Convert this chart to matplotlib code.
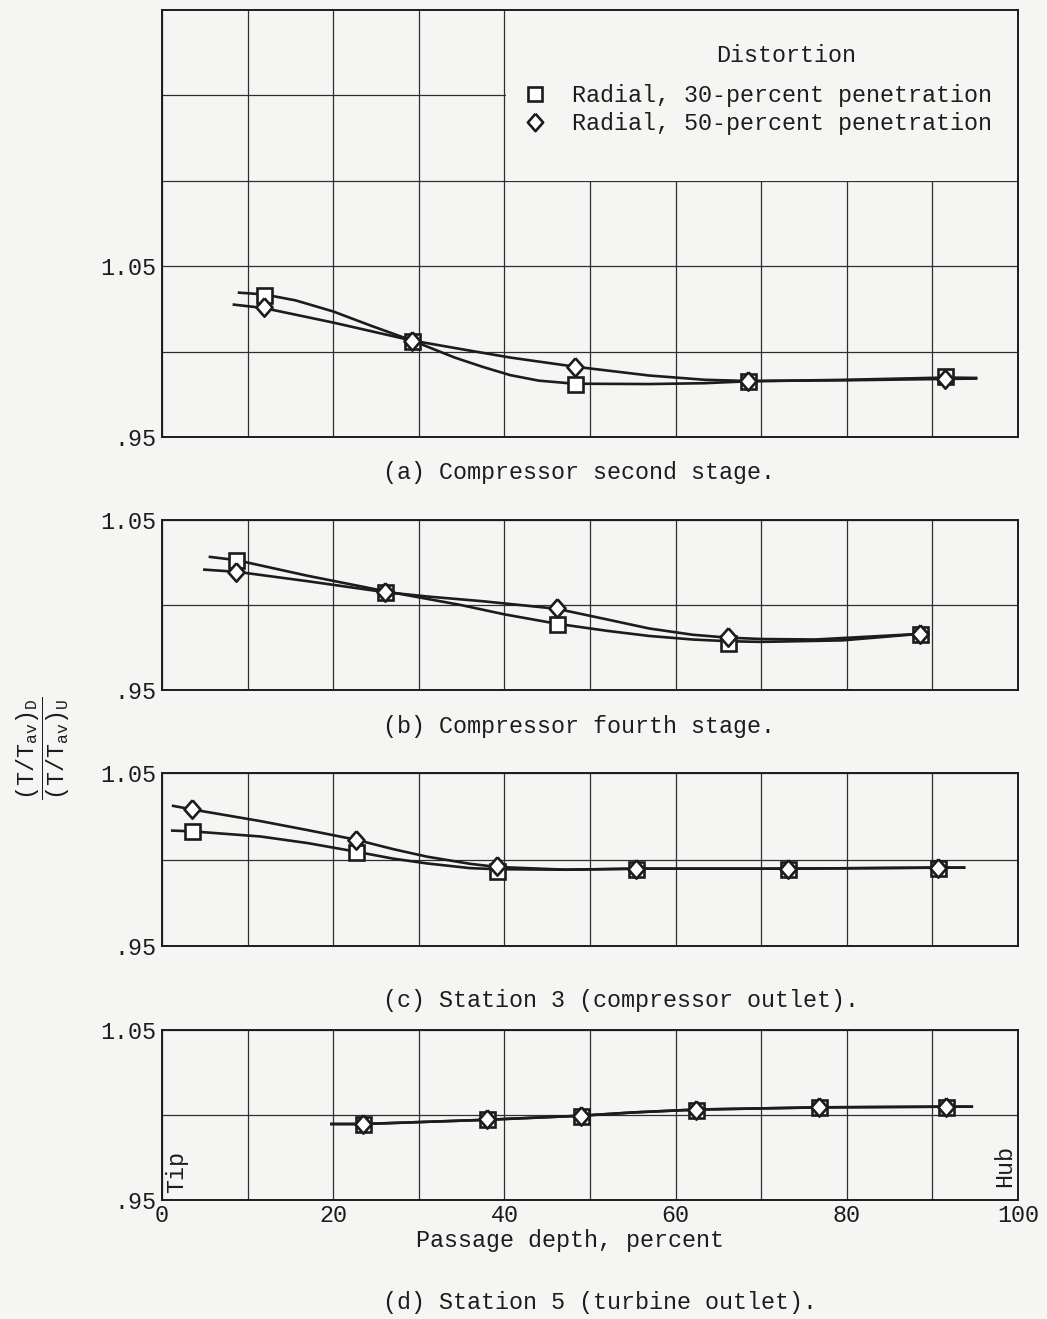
import matplotlib
matplotlib.use('Agg')
import matplotlib.pyplot as plt
import matplotlib.patches as mpatches
from matplotlib.lines import Line2D

plt.rcParams['font.family'] = ['Liberation Mono', 'DejaVu Sans Mono']
plt.rcParams['mathtext.fontset'] = 'custom'
plt.rcParams['mathtext.rm'] = 'Liberation Mono'
plt.rcParams['mathtext.it'] = 'Liberation Mono'

# (a) compressor second stage - measured points
a_x = [11.9, 29.2, 48.2, 68.4, 91.5]
a_sq = [1.033, 1.006, 0.981, 0.983, 0.986]
a_di = [1.026, 1.006, 0.991, 0.983, 0.984]
# faired curves
a_sq_fx = [9.0, 11.9, 15.6, 20.0, 24.5, 29.2, 34.2, 37.5, 40.7, 44.0, 48.2, 56.9, 63.4, 68.4, 80.0, 91.5, 95.1]
a_sq_fy = [1.0345, 1.0335, 1.030, 1.0235, 1.015, 1.0065, 0.9965, 0.991, 0.9862, 0.983, 0.9812, 0.981, 0.9815, 0.9826, 0.9835, 0.9848, 0.9846]
a_di_fx = [8.4, 11.9, 20.0, 29.2, 34.9, 40.7, 48.2, 56.9, 63.4, 68.4, 80.0, 91.5, 95.1]
a_di_fy = [1.0275, 1.0255, 1.017, 1.0065, 1.0015, 0.9965, 0.9912, 0.986, 0.9835, 0.9828, 0.9832, 0.984, 0.9842]

# (b) compressor fourth stage
b_x = [8.7, 26.0, 46.1, 66.1, 88.5]
b_sq = [1.0264, 1.0076, 0.989, 0.9775, 0.983]
b_di = [1.0195, 1.0076, 0.998, 0.981, 0.983]
b_sq_fx = [5.6, 8.7, 17.0, 26.0, 34.9, 40.0, 46.1, 52.0, 56.9, 62.0, 66.1, 70.0, 79.5, 88.5]
b_sq_fy = [1.0283, 1.0264, 1.0172, 1.0082, 1.0, 0.9945, 0.989, 0.9848, 0.9818, 0.9797, 0.9787, 0.9783, 0.9792, 0.983]
b_di_fx = [4.95, 8.8, 17.0, 26.0, 31.0, 37.5, 46.1, 52.0, 56.9, 62.0, 66.1, 70.0, 76.3, 88.5]
b_di_fy = [1.0208, 1.0195, 1.014, 1.0076, 1.005, 1.0022, 0.9978, 0.9915, 0.9862, 0.9825, 0.9808, 0.98, 0.9797, 0.983]

# (c) station 3
c_x = [3.45, 22.7, 39.1, 55.4, 73.1, 90.7]
c_sq = [1.0163, 1.0045, 0.9935, 0.9947, 0.9947, 0.9953]
c_di = [1.029, 1.0114, 0.9965, 0.9947, 0.9947, 0.9953]
c_sq_fx = [1.2, 3.45, 11.5, 17.0, 22.7, 27.0, 31.0, 36.0, 39.1, 47.2, 55.4, 73.1, 90.7, 93.7]
c_sq_fy = [1.0167, 1.0163, 1.0133, 1.0095, 1.0045, 1.0005, 0.9977, 0.995, 0.9944, 0.9941, 0.9947, 0.9947, 0.9953, 0.9953]
c_di_fx = [1.3, 3.45, 11.5, 17.0, 22.7, 27.0, 31.0, 36.0, 39.1, 47.2, 55.4, 73.1, 90.7, 93.7]
c_di_fy = [1.031, 1.029, 1.0222, 1.017, 1.0114, 1.006, 1.0016, 0.9975, 0.9957, 0.9941, 0.9947, 0.9947, 0.9953, 0.9953]

# (d) station 5 (both distortions coincide)
d_x = [23.5, 38.0, 49.0, 62.4, 76.8, 91.6]
d_y = [0.9947, 0.9977, 0.9996, 1.0032, 1.0045, 1.0049]
d_fx = [19.8, 23.5, 38.0, 49.0, 55.0, 62.4, 76.8, 91.6, 94.6]
d_fy = [0.9947, 0.9947, 0.9972, 0.9996, 1.0015, 1.0032, 1.0045, 1.0049, 1.0049]

captions = ['(a) Compressor second stage.',
            '(b) Compressor fourth stage.',
            '(c) Station 3 (compressor outlet).',
            '(d) Station 5 (turbine outlet).']
legend_labels = ['Radial, 30-percent penetration', 'Radial, 50-percent penetration']

bg = '#f5f5f3'
ink = '#1c1c1c'
fs = 16.8

# slightly tall diamond, like the hand-drawn symbols
tall_diamond = [(0, 1), (0.88, 0), (0, -1), (-0.88, 0), (0, 1)]

W, H = 1047, 1319
fig = plt.figure(figsize=(W / 100, H / 100), dpi=100, facecolor=bg)

# axes boxes in pixels: (top, bottom)
boxes = [(10, 437), (520, 690), (773, 946), (1030, 1200)]
left_px, right_px = 162, 1018
axes = []
for top, bot in boxes:
    ax = fig.add_axes([left_px / W, 1 - bot / H, (right_px - left_px) / W, (bot - top) / H])
    ax.set_facecolor(bg)
    axes.append(ax)

sq_style = dict(marker='s', ms=10.8, mfc='white', mec=ink, mew=1.9, ls='none', zorder=4)
di_style = dict(marker=tall_diamond, ms=13.2, mfc='white', mec=ink, mew=1.9, ls='none', zorder=5)
line_style = dict(color=ink, lw=1.9, zorder=3, solid_joinstyle='round')

series = [
    (a_x, a_sq, a_di, a_sq_fx, a_sq_fy, a_di_fx, a_di_fy),
    (b_x, b_sq, b_di, b_sq_fx, b_sq_fy, b_di_fx, b_di_fy),
    (c_x, c_sq, c_di, c_sq_fx, c_sq_fy, c_di_fx, c_di_fy),
    (d_x, d_y, d_y, d_fx, d_fy, d_fx, d_fy),
]

for i, ax in enumerate(axes):
    x, ysq, ydi, sfx, sfy, dfx, dfy = series[i]
    ax.plot(sfx, sfy, **line_style)
    ax.plot(dfx, dfy, **line_style)
    ax.plot(x, ysq, **sq_style)
    ax.plot(x, ydi, **di_style)

    ax.set_xlim(0, 100)
    if i == 0:
        ax.set_ylim(0.95, 1.20)
        yt = [0.95, 1.00, 1.05, 1.10, 1.15]
        ylabs = ['.95', '', '1.05', '', '']
    else:
        ax.set_ylim(0.95, 1.05)
        yt = [0.95, 1.00, 1.05]
        ylabs = ['.95', '', '1.05']
    ax.set_yticks(yt)
    ax.set_yticklabels(ylabs)
    ax.set_xticks(range(0, 101, 10))
    if i == 3:
        ax.set_xticklabels([str(v) if v % 20 == 0 else '' for v in range(0, 101, 10)])
    else:
        ax.set_xticklabels([])
    ax.tick_params(length=0, labelsize=fs, pad=4, colors=ink)
    ax.tick_params(axis='x', pad=3)
    ax.set_axisbelow(True)
    ax.grid(True, color='#2e2e2e', lw=0.9)
    for s in ax.spines.values():
        s.set_color(ink)
        s.set_linewidth(1.4)

    fig.text(383 / W, 1 - [472, 727, 1001, 1303][i] / H, captions[i],
             ha='left', va='center', fontsize=fs, color=ink)

# clear the legend area of panel (a)
ax = axes[0]
ax.add_patch(mpatches.Rectangle((40.2, 1.10), 60, 0.11, facecolor=bg, edgecolor='none', zorder=1))
ax.text((786 - left_px) / (right_px - left_px), (437 - 55) / 427, 'Distortion',
        transform=ax.transAxes, ha='center', va='center', fontsize=fs, color=ink)
handles = [Line2D([], [], marker='s', ms=9.4, mfc='white', mec=ink, mew=1.9, ls='none'),
           Line2D([], [], marker=tall_diamond, ms=12.5, mfc='white', mec=ink, mew=1.9, ls='none')]
leg = ax.legend(handles, legend_labels, loc='upper left',
                bbox_to_anchor=((523 - left_px) / (right_px - left_px), (437 - 84) / 427),
                frameon=False, fontsize=fs, handlelength=1.0, handletextpad=1.1,
                labelspacing=0.2, borderpad=0, borderaxespad=0)
for t in leg.get_texts():
    t.set_color(ink)

# Tip / Hub labels
axd = axes[3]
axd.text((177 - left_px) / (right_px - left_px), (1200 - 1193) / 170, 'Tip', rotation=90,
         transform=axd.transAxes, ha='center', va='bottom', fontsize=fs, color=ink)
axd.text((1005 - left_px) / (right_px - left_px), (1200 - 1187) / 170, 'Hub', rotation=90,
         transform=axd.transAxes, ha='center', va='bottom', fontsize=fs, color=ink)

fig.text(570 / W, 1 - 1240 / H, 'Passage depth, percent', ha='center', va='center',
         fontsize=fs, color=ink)

fig.text(43 / W, 1 - 748 / H,
         r'$\dfrac{(\mathrm{T/T_{av}})_{\mathrm{D}}}{(\mathrm{T/T_{av}})_{\mathrm{U}}}$',
         rotation=90, ha='center', va='center', fontsize=fs, color=ink)

fig.savefig('out.png', dpi=100, facecolor=bg)
